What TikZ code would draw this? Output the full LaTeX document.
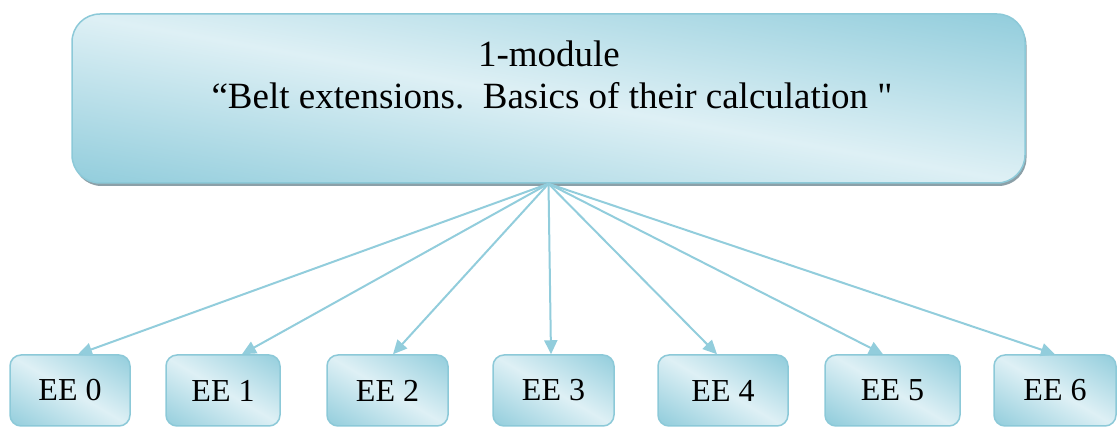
\documentclass[tikz,border=0pt]{standalone}
\usepackage{fontspec}
\setmainfont{Liberation Serif}
\usetikzlibrary{arrows.meta,shadows}
\definecolor{aqualight}{RGB}{222,240,245}
\definecolor{aquadark}{RGB}{146,205,220}
\definecolor{aquaedge}{RGB}{140,201,216}
\definecolor{shadowgrey}{RGB}{128,150,158}
\tikzset{
  % diagonal gradient: light along the box diagonal, darker towards
  % the lower-left and upper-right corners (#1 = tilt, #2 = half spread)
  aquafill/.style 2 args={path picture={
    \shade[transform canvas={rotate around={#1:(path picture bounding box.center)}},
      top color=aquadark, bottom color=aquadark, middle color=aqualight]
      ([shift={(-700pt,-#2)}]path picture bounding box.center)
      rectangle ([shift={(700pt,#2)}]path picture bounding box.center);}},
  topbox/.style={draw=aquaedge, line width=1.5pt, rounded corners=28pt,
    fill=aqualight, aquafill={-10.06}{166pt},
    minimum width=953pt, minimum height=169pt, inner sep=0pt,
    drop shadow={shadow xshift=1.5pt, shadow yshift=-3pt,
      fill=shadowgrey, opacity=0.9}},
  titletext/.style={anchor=base, inner sep=0pt,
    font=\fontsize{37}{42}\selectfont},
  eebox/.style={draw=aquaedge, line width=1.5pt, rounded corners=11pt,
    fill=aqualight, aquafill={-30.4}{61pt},
    minimum height=71pt, inner sep=0pt,
    font=\fontsize{32}{38}\selectfont},
  link/.style={draw=aquadark, line width=2pt,
    -{Triangle[length=14pt,width=13pt]}},
}
\begin{document}
\begin{tikzpicture}[x=1pt, y=-1pt]
  \useasboundingbox (0,0) rectangle (1117,427);

  % module box and its two-line title
  \node[topbox] (top) at (548.5,98.5) {};
  \node[titletext] (line1) at (549,67) {1-module};
  \node[titletext] (line2) at (552,109)
    {“Belt extensions.\ \ Basics of their calculation \textquotedbl};

  % educational elements
  \node[eebox, minimum width=120pt] (ee0) at (70,390.5)   {EE 0};
  \node[eebox, minimum width=114pt] (ee1) at (223,390.5)  {EE 1};
  \node[eebox, minimum width=121pt] (ee2) at (387.5,390.5) {EE 2};
  \node[eebox, minimum width=121pt] (ee3) at (553.5,390.5) {EE 3};
  \node[eebox, minimum width=130pt] (ee4) at (723,390.5)  {EE 4};
  \node[eebox, minimum width=135pt] (ee5) at (892.5,390.5) {EE 5};
  \node[eebox, minimum width=122pt] (ee6) at (1055,390.5) {EE 6};

  % connectors fanning out from the module box
  \coordinate (hub) at (top.south);
  \draw[link] (hub) -- ([xshift=8pt]ee0.north);
  \draw[link] (hub) -- ([xshift=19pt]ee1.north);
  \draw[link] (hub) -- ([xshift=5.5pt]ee2.north);
  \draw[link] (hub) -- ([xshift=-2.5pt]ee3.north);
  \draw[link] (hub) -- ([xshift=-6pt]ee4.north);
  \draw[link] (hub) -- ([xshift=-9.5pt]ee5.north);
  \draw[link] (hub) -- (ee6.north);
\end{tikzpicture}
\end{document}
